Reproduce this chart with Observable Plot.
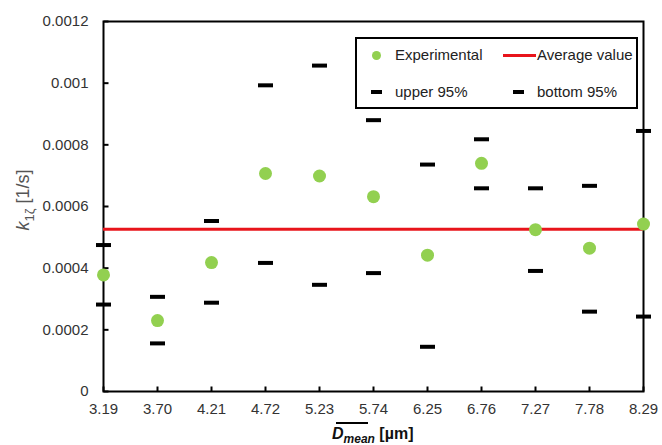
<!DOCTYPE html>
<html>
<head>
<meta charset="utf-8">
<script src="https://cdn.jsdelivr.net/npm/d3@7"></script>
<script src="https://cdn.jsdelivr.net/npm/@observablehq/plot@0.6"></script>
<style>
  body { margin: 0; background: white; }
  #wrap { position: relative; width: 662px; height: 445px; font-family: "Liberation Sans", Arial, sans-serif; background: white; overflow: hidden; }
  .abs { position: absolute; white-space: nowrap; }
  .lg { font-size: 15px; line-height: 18px; color: #222; }
</style>
</head>
<body>
<div id="wrap">
  <div id="chart"></div>
  <div class="abs" style="left:355px;top:37px;width:283px;height:72px;border:2px solid #000;box-sizing:border-box;background:white;"></div>
  <div class="abs" style="left:371.5px;top:50.5px;width:9px;height:9px;border-radius:50%;background:#92D050;"></div>
  <div class="abs lg" style="left:395px;top:46px;">Experimental</div>
  <div class="abs" style="left:503px;top:53.5px;width:33px;height:3px;background:#e8141b;"></div>
  <div class="abs lg" style="left:537px;top:46px;">Average value</div>
  <div class="abs" style="left:371px;top:90px;width:11px;height:4px;background:#000;"></div>
  <div class="abs lg" style="left:395px;top:83px;">upper 95%</div>
  <div class="abs" style="left:513px;top:90px;width:11px;height:4px;background:#000;"></div>
  <div class="abs lg" style="left:537px;top:83px;">bottom 95%</div>
  <div class="abs" style="left:25px;top:200px;transform:translate(-50%,-50%) rotate(-90deg);font-size:18px;color:#555;"><i>k</i><sub style="font-size:13px;">1ζ</sub> [1/s]</div>
  <div class="abs" style="left:336px;top:422px;width:32px;height:2px;background:#000;"></div>
  <div class="abs" style="left:332px;top:425px;font-size:16px;font-weight:bold;color:#111;line-height:18px;"><i>D</i><sub style="font-size:12px;"><i>mean</i></sub> [µm]</div>
</div>
<script>
const xLabels = ["3.19", "3.70", "4.21", "4.72", "5.23", "5.74", "6.25", "6.76", "7.27", "7.78", "8.29"];
const experimental = [0.000378, 0.00023, 0.000418, 0.000707, 0.000699, 0.000632, 0.000442, 0.00074, 0.000525, 0.000465, 0.000543];
const upper95 = [0.000475, 0.000307, 0.000553, 0.000993, 0.001057, 0.00088, 0.000736, 0.000818, 0.000659, 0.000667, 0.000845];
const bottom95 = [0.000282, 0.000156, 0.000288, 0.000417, 0.000346, 0.000384, 0.000145, 0.000659, 0.000391, 0.000259, 0.000243];
const averageValue = 0.000526;
const yTicks = [0, 0.0002, 0.0004, 0.0006, 0.0008, 0.001, 0.0012];

const rows = xLabels.map((x, i) => ({x, exp: experimental[i], up: upper95[i], lo: bottom95[i]}));

const barSymbol = {draw(ctx) { ctx.rect(-7.5, -2, 15, 4); }};
const yTickSymbol = {draw(ctx) { ctx.moveTo(0, 0); ctx.lineTo(5, 0); }};
const xTickSymbol = {draw(ctx) { ctx.moveTo(0, 0); ctx.lineTo(0, -5); }};

const chart = Plot.plot({
  width: 662,
  height: 445,
  marginLeft: 103,
  marginRight: 19,
  marginTop: 21,
  marginBottom: 54,
  style: {fontFamily: "Liberation Sans, Arial, sans-serif", fontSize: "15px", color: "#333", background: "white"},
  x: {type: "point", domain: xLabels, padding: 0, label: null},
  y: {domain: [0, 0.0012], label: null},
  marks: [
    Plot.axisX({tickSize: 0, tickPadding: 12, fontSize: 15, label: null}),
    Plot.axisY({ticks: yTicks, tickSize: 0, tickPadding: 15, fontSize: 15, label: null,
      tickFormat: d => String(+d.toFixed(4))}),
    Plot.dot(yTicks, {x: () => xLabels[0], y: d => d, symbol: yTickSymbol, stroke: "#000", strokeWidth: 2, fill: "none", r: 3}),
    Plot.dot(xLabels, {x: d => d, y: () => 0, symbol: xTickSymbol, stroke: "#000", strokeWidth: 2, fill: "none", r: 3}),
    Plot.frame({stroke: "#000", strokeWidth: 2}),
    Plot.ruleY([averageValue], {stroke: "#e8141b", strokeWidth: 3}),
    Plot.dot(rows, {x: "x", y: "up", symbol: barSymbol, fill: "#000", stroke: "none", r: 4}),
    Plot.dot(rows, {x: "x", y: "lo", symbol: barSymbol, fill: "#000", stroke: "none", r: 4}),
    Plot.dot(rows, {x: "x", y: "exp", r: 6.5, fill: "#92D050", stroke: "none"})
  ]
});
document.getElementById("chart").appendChild(chart);
</script>
</body>
</html>
